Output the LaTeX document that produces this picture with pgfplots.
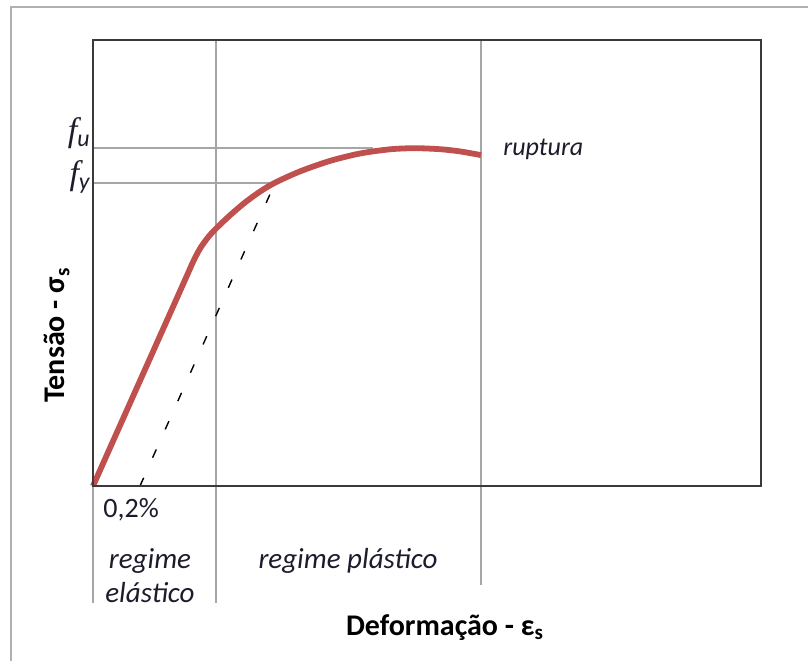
\documentclass[border=0pt]{standalone}
\usepackage{pgfplots}
\pgfplotsset{compat=1.18}
\usepackage{fontspec}
\setmainfont{Carlito}
\newfontfamily\tnr{Liberation Serif}
\definecolor{curvered}{HTML}{C0504D}
\definecolor{guide}{HTML}{A6A6A6}
\definecolor{framec}{HTML}{B0B0B0}
\definecolor{axisc}{HTML}{3A3A3A}
\definecolor{txt}{HTML}{1C1C2C}
\begin{document}
\begin{tikzpicture}
\begin{axis}[
 x=0.5pt, y=0.5pt,
 xmin=93, xmax=761, ymin=175, ymax=621,
 axis line style={draw=axisc, line width=1.2pt},
 xtick=\empty, ytick=\empty,
 clip=false, axis on top=true,
]
% guide lines
\addplot[guide, line width=1pt] coordinates {(216,621) (216,58)};
\addplot[guide, line width=1pt] coordinates {(481,621) (481,76)};
\addplot[guide, line width=1pt] coordinates {(93,175) (93,58)};
\addplot[guide, line width=1pt] coordinates {(93,513) (373,513)};
\addplot[guide, line width=1pt] coordinates {(93,478) (275,478)};
% 0.2% offset line
\addplot[black, line width=0.7pt, dash pattern=on 4.5pt off 11pt] coordinates {(140,175) (275,478)};
% stress-strain curve
\addplot[curvered, line width=2.9pt, smooth] coordinates {
(93,175) (143,287) (186,383.3) (193,399) (200,412.4) (208,423.6) (216,432.4)
(230,445.7) (245,458.5) (260,469.4) (275,478.3) (300,489.6) (330,500.1)
(360,507.5) (390,511.7) (415,512.8) (440,511.8) (460,509.6) (481,505.9)};
\coordinate (BL) at (axis cs:0,0);
\coordinate (TR) at (axis cs:808,661);
\draw[framec, line width=1.3pt] (axis cs:11,0) -- (axis cs:11,654) -- (axis cs:808,654);
% labels
\node[anchor=base east, text=txt, inner sep=0pt] at (axis cs:91,520) {\fontsize{17}{19}\selectfont{\tnr\itshape f}\textsubscript{\itshape u}};
\node[anchor=base east, text=txt, inner sep=0pt] at (axis cs:91,477) {\fontsize{17}{19}\selectfont{\tnr\itshape f}\textsubscript{\itshape y}};
\node[anchor=base west, text=txt, inner sep=0pt] at (axis cs:503,506) {\fontsize{13}{15}\selectfont\itshape ruptura};
\node[anchor=base west, text=txt, inner sep=0pt] at (axis cs:103,144) {\fontsize{14}{16}\selectfont 0,2\%};
\node[anchor=base, text=txt, inner sep=0pt] at (axis cs:150,93) {\fontsize{14.5}{16}\selectfont\itshape regime};
\node[anchor=base, text=txt, inner sep=0pt] at (axis cs:150,59) {\fontsize{14.5}{16}\selectfont\itshape elástico};
\node[anchor=base, text=txt, inner sep=0pt] at (axis cs:348,93) {\fontsize{14.5}{16}\selectfont\itshape regime plástico};
\node[anchor=base, text=black, inner sep=0pt] at (axis cs:445,26) {\fontsize{15}{17}\selectfont\bfseries Deformação - ε\textsubscript{s}};
\node[anchor=base, rotate=90, text=black, inner sep=0pt] at (axis cs:65,326) {\fontsize{15}{17}\selectfont\bfseries Tensão - σ\textsubscript{s}};
\end{axis}
\pgfresetboundingbox
\path (BL) rectangle (TR);
\end{tikzpicture}
\end{document}
